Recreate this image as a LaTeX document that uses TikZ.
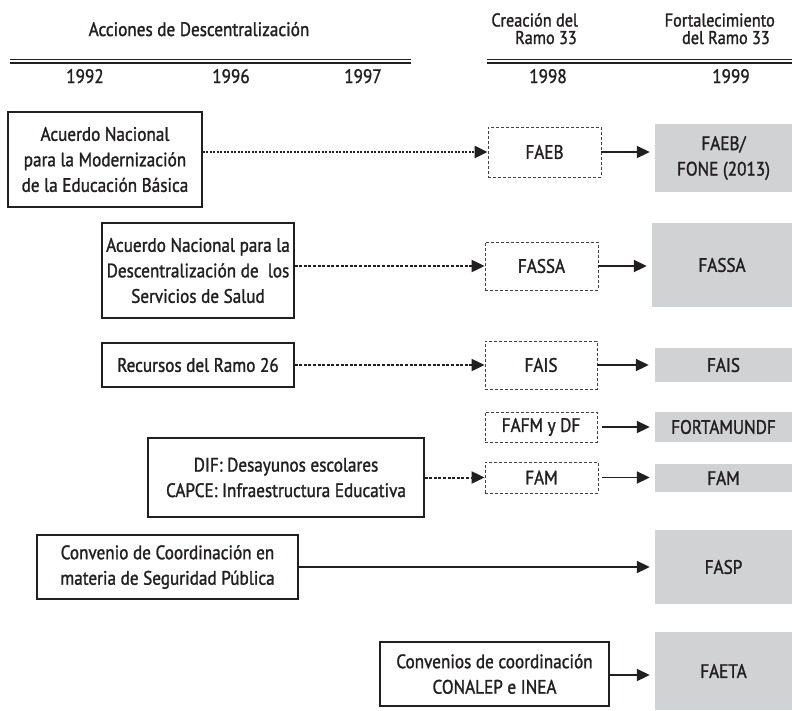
\documentclass[tikz,border=0pt]{standalone}
\usepackage{fontspec}
\setmainfont{PT Sans}[FakeStretch=0.88, RawFeature={embolden=1.4}]
\usetikzlibrary{arrows.meta}
\definecolor{fundgray}{RGB}{209,210,212}
\definecolor{ink}{RGB}{35,31,32}

\begin{document}
\begin{tikzpicture}[x=1pt,y=-1pt,
  every node/.style={font=\fontsize{19.5}{25.5}\selectfont, text=ink},
  dims/.style 2 args={minimum width=#1, minimum height=#2},
  origbox/.style={draw=ink, line width=1.1pt, align=center, inner sep=0pt},
  newbox/.style={draw=ink!85, line width=0.8pt, dash pattern=on 3pt off 2pt, inner sep=0pt, align=center},
  fundbox/.style={fill=fundgray, inner sep=0pt, align=center},
  tip/.style={-{Triangle[length=13pt,width=12pt]}},
  link/.style={tip, line width=1.9pt, draw=ink},
  dotlink/.style={tip, line width=2.2pt, draw=ink, dash pattern=on 2pt off 1.5pt},
  dashlink/.style={tip, line width=2pt, draw=ink, dash pattern=on 3pt off 1.6pt},
  rule/.style={draw=ink, line width=1.5pt},
  head/.style={anchor=base},
  twoline/.style={align=right, inner sep=0pt, font=\fontsize{18.5}{17.5}\selectfont},
]
\useasboundingbox (0,0) rectangle (792,710);

% column headings and double rules
\node[head] (hAcc) at (199,36) {Acciones de Descentralización};
\node[twoline, anchor=base east] (hCre) at (578,44) {Creación del\\Ramo 33\hspace*{1pt}};
\node[twoline, anchor=base east] (hFor) at (775,44) {Fortalecimiento\\del Ramo 33\hspace*{5pt}};

\coordinate (rL1) at (10,59.5);  \coordinate (rL2) at (411,59.5);
\coordinate (rL3) at (10,63);    \coordinate (rL4) at (411,63);
\coordinate (rR1) at (487,59.5); \coordinate (rR2) at (792,59.5);
\coordinate (rR3) at (487,63);   \coordinate (rR4) at (792,63);
\draw[rule] (rL1) -- (rL2);
\draw[rule] (rL3) -- (rL4);
\draw[rule] (rR1) -- (rR2);
\draw[rule] (rR3) -- (rR4);

\node[head] (y92) at (85,83) {1992};
\node[head] (y96) at (231,83) {1996};
\node[head] (y97) at (363,83) {1997};
\node[head] (y98) at (548,83) {1998};
\node[head] (y99) at (731,83) {1999};

% decentralisation actions
\node[origbox, dims={194pt}{95pt}] (anmeb) at (105,159.5)
  {Acuerdo Nacional\\para la Modernización\\de la Educación Básica};
\node[origbox, dims={192pt}{95pt}] (andss) at (198,270.5)
  {Acuerdo Nacional para la\\Descentralización de\ \ los\\Servicios de Salud};
\node[origbox, dims={192pt}{44pt}] (r26) at (198,365) {Recursos del Ramo 26};
\node[origbox, dims={276pt}{79pt}] (dif) at (286,477.5)
  {DIF: Desayunos escolares\\CAPCE: Infraestructura Educativa};
\node[origbox, dims={261pt}{64pt}] (csp) at (167.5,567)
  {Convenio de Coordinación en\\materia de Seguridad Pública};
\node[origbox, dims={229pt}{64pt}] (cci) at (494.5,674)
  {Convenios de coordinación\\CONALEP e INEA};

% funds created in 1998
\node[newbox, dims={113pt}{50pt}] (faeb) at (544.5,152) {FAEB};
\node[newbox, dims={113pt}{48pt}] (fassa) at (541.5,266) {FASSA};
\node[newbox, dims={112pt}{48pt}] (fais) at (541,365) {FAIS};
\node[newbox, dims={112pt}{30pt}] (fafm) at (541,427) {FAFM y DF};
\node[newbox, dims={113pt}{31pt}] (fam) at (541.5,477.5) {FAM};

% funds from 1999
\node[fundbox, dims={137pt}{68pt}] (gfaeb) at (723.5,158) {FAEB/\\FONE (2013)};
\node[fundbox, dims={140pt}{84pt}] (gfassa) at (722,265) {FASSA};
\node[fundbox, dims={137pt}{34pt}] (gfais) at (723.5,365) {FAIS};
\node[fundbox, dims={137pt}{30pt}] (gfort) at (723.5,427) {FORTAMUNDF};
\node[fundbox, dims={137pt}{28pt}] (gfam) at (723.5,478) {FAM};
\node[fundbox, dims={137pt}{74pt}] (gfasp) at (723.5,567) {FASP};
\node[fundbox, dims={137pt}{78pt}] (gfaeta) at (723.5,671) {FAETA};

% connectors
\draw[dotlink] (anmeb.east |- faeb) -- (faeb.west);
\draw[dashlink] (andss.east |- fassa) -- (fassa.west);
\draw[dashlink] (r26.east |- fais) -- (fais.west);
\draw[dashlink] (dif.east |- fam) -- (fam.west);

\draw[link, shorten >=5pt] (faeb.east) -- (gfaeb.west |- faeb.east);
\draw[link, shorten >=5pt] (fassa.east) -- (gfassa.west |- fassa.east);
\draw[link, shorten >=6pt] (fais.east) -- (gfais.west |- fais.east);
\draw[link, shorten >=5pt, shorten <=5pt] (fafm.east) -- (gfort.west |- fafm.east);
\draw[link, shorten >=5pt, shorten <=4pt] (fam.east) -- (gfam.west |- fam.east);
\draw[link, shorten >=5pt] (csp.east) -- (gfasp.west |- csp.east);
\draw[link, shorten >=5pt] (cci.east |- gfaeta) ++(0,4) coordinate (cciout) (cciout) -- (gfaeta.west |- cciout);
\end{tikzpicture}
\end{document}
